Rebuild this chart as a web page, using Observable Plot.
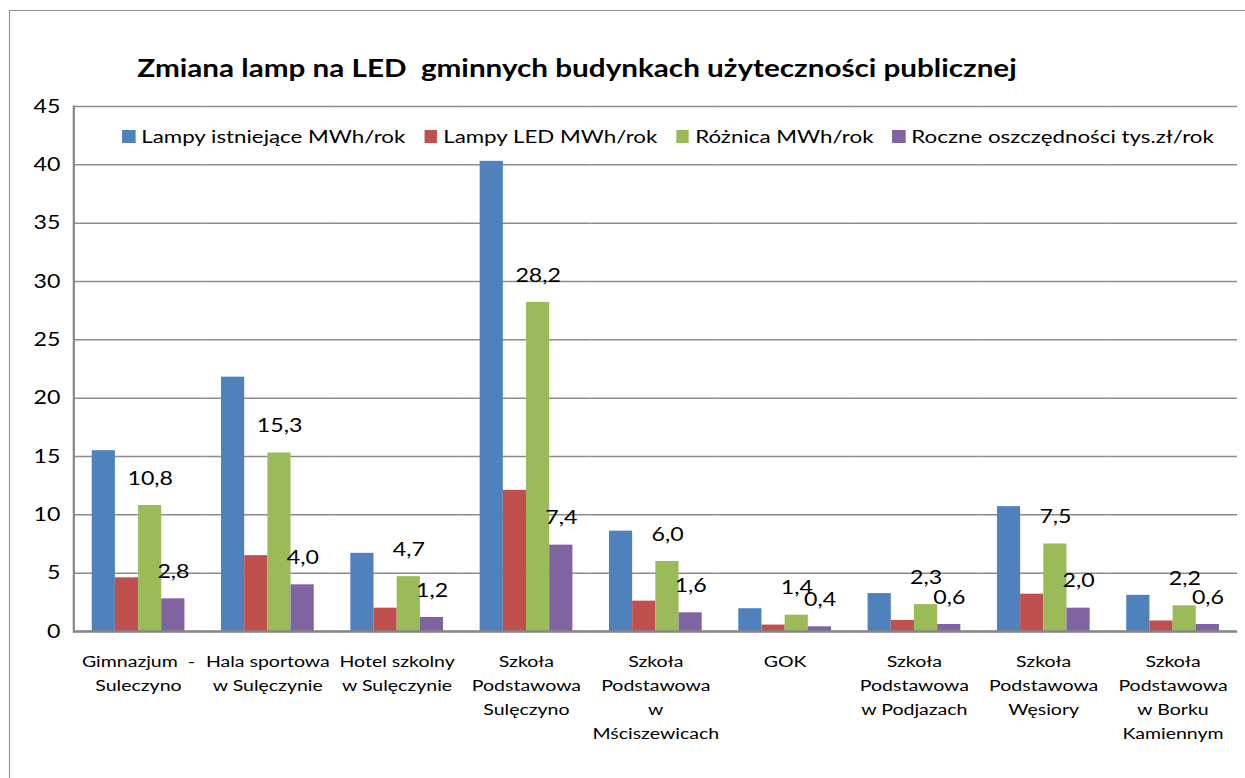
<!DOCTYPE html>
<html><head><meta charset="utf-8">
<script src="https://cdn.jsdelivr.net/npm/d3@7"></script>
<script src="https://cdn.jsdelivr.net/npm/@observablehq/plot@0.6"></script>
<style>
body{margin:0;background:#fff;}
#wrap{position:relative;width:1245px;height:778px;overflow:hidden;font-family:Lato,"Open Sans",sans-serif;color:#000;}
#border{position:absolute;left:9px;top:10px;width:1400px;height:900px;border:1.5px solid #8c8c8c;}
#chart{position:absolute;left:0;top:0;transform-origin:0 0;}
#title{position:absolute;left:0;width:1154px;top:50px;text-align:center;line-height:36px;}
#title span{display:inline-block;font-weight:bold;font-size:24px;white-space:pre;transform:scaleX(1.235);transform-origin:50% 50%;}
#legend{position:absolute;top:125px;left:122px;display:flex;align-items:center;font-size:18px;white-space:pre;transform:scaleX(1.24);transform-origin:0 50%;}
.item{display:flex;align-items:center;margin-right:15px;}
.sw{width:10.5px;height:13px;margin-right:5px;display:inline-block;}
</style>
</head><body>
<div id="wrap">
  <div id="border"></div>
  <div id="chart"></div>
  <div id="title"><span></span></div>
  <div id="legend"></div>
</div>
<script>
const titleText = "Zmiana lamp na LED  gminnych budynkach użyteczności publicznej";
const categories = [
  "Gimnazjum  -\nSuleczyno",
  "Hala sportowa\nw Sulęczynie",
  "Hotel szkolny\nw Sulęczynie",
  "Szkoła\nPodstawowa\nSulęczyno",
  "Szkoła\nPodstawowa\nw\nMściszewicach",
  "GOK",
  "Szkoła\nPodstawowa\nw Podjazach",
  "Szkoła\nPodstawowa\nWęsiory",
  "Szkoła\nPodstawowa\nw Borku\nKamiennym"
];
const seriesNames = ["Lampy istniejące MWh/rok", "Lampy LED MWh/rok", "Różnica MWh/rok", "Roczne oszczędności tys.zł/rok"];
const colors = ["#4F81BD", "#C0504D", "#9BBB59", "#8064A2"];
const lampyIstniejace = [15.5, 21.8, 6.7, 40.3, 8.6, 1.95, 3.25, 10.7, 3.1];
const lampyLED = [4.6, 6.5, 2.0, 12.1, 2.6, 0.55, 0.95, 3.2, 0.9];
const roznica = [10.8, 15.3, 4.7, 28.2, 6.0, 1.4, 2.3, 7.5, 2.2];
const oszczednosci = [2.8, 4.0, 1.2, 7.4, 1.6, 0.4, 0.6, 2.0, 0.6];
const labelledSeries = [2, 3];
const yTicks = [0, 5, 10, 15, 20, 25, 30, 35, 40, 45];

// horizontal stretch of the reference picture
const S = 1.22;
const W = 1245, H = 778;

const seriesValues = [lampyIstniejace, lampyLED, roznica, oszczednosci];
const data = categories.flatMap((c, i) => seriesNames.map((s, j) => ({cat: c, series: s, idx: j, value: seriesValues[j][i]})));
const labelData = data.filter(d => labelledSeries.includes(d.idx));
const fmt = v => v.toFixed(1).replace(".", ",");

document.querySelector("#title span").textContent = titleText;
const legend = document.getElementById("legend");
seriesNames.forEach((s, j) => {
  const it = document.createElement("div"); it.className = "item";
  const sw = document.createElement("span"); sw.className = "sw"; sw.style.background = colors[j];
  const tx = document.createElement("span"); tx.textContent = s;
  it.appendChild(sw); it.appendChild(tx); legend.appendChild(it);
});

const chart = Plot.plot({
  width: W / S, height: H,
  marginLeft: 73 / S, marginRight: 8 / S, marginTop: 106, marginBottom: 147,
  style: {fontFamily: "Lato, 'Open Sans', sans-serif", background: "transparent", color: "#000", overflow: "visible"},
  fx: {domain: categories, padding: 0, label: null, axis: null},
  x: {domain: seriesNames, paddingInner: 0, paddingOuter: 0.76, axis: null},
  y: {domain: [0, 45], axis: null, label: null},
  color: {domain: seriesNames, range: colors},
  marks: [
    Plot.gridY(yTicks, {stroke: "#8c8c8c", strokeOpacity: 1, strokeWidth: 1.5}),
    Plot.barY(data, {fx: "cat", x: "series", y: "value", fill: "series"}),
    Plot.text(labelData, {fx: "cat", x: "series", y: "value", text: d => fmt(d.value), dy: -27, fontSize: 19, fill: "#000"}),
    Plot.ruleY([0], {stroke: "#868686", strokeWidth: 2.5}),
    Plot.axisY(yTicks, {tickSize: 0, tickPadding: 11, fontSize: 19, label: null, tickFormat: d => String(d)}),
    Plot.axisFx({anchor: "bottom", tickSize: 0, tickPadding: 18, fontSize: 16, lineHeight: 1.5, label: null}),
    Plot.frame({anchor: "left", facetAnchor: "left", stroke: "#868686", strokeWidth: 1.8})
  ]
});
const holder = document.getElementById("chart");
holder.style.transform = `scaleX(${S})`;
holder.appendChild(chart);
</script>
</body></html>
